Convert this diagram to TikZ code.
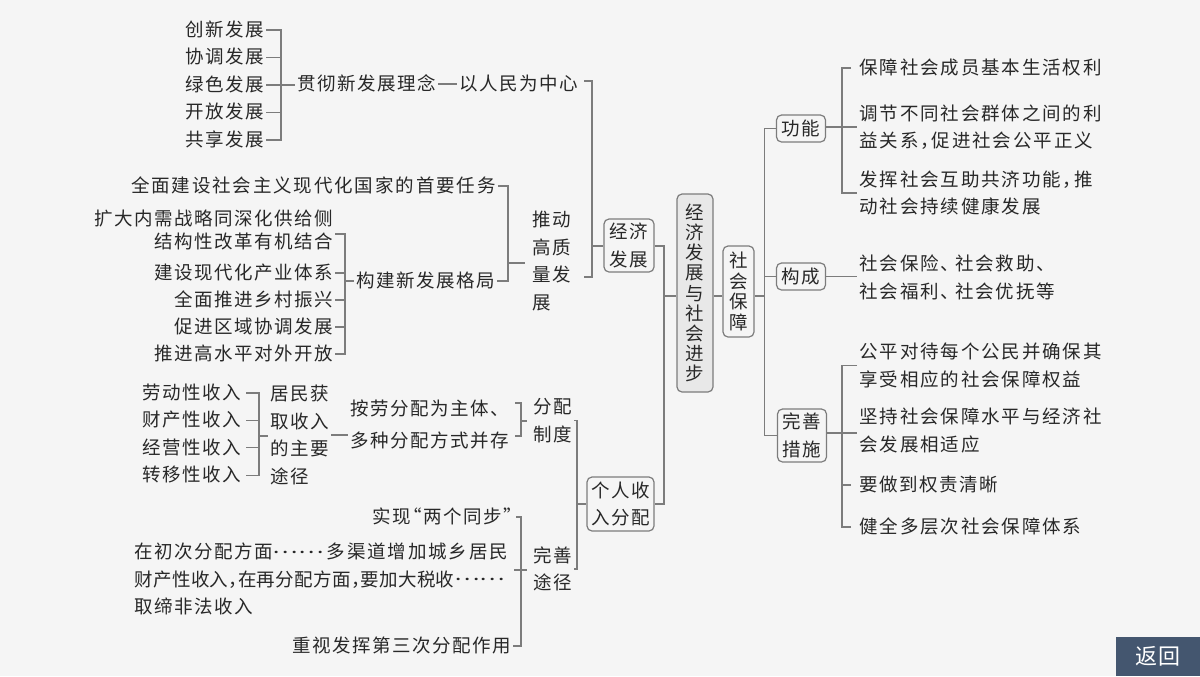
\documentclass[tikz,border=0pt]{standalone}
\usepackage{fontspec}
\setmainfont{Noto Sans CJK SC}[LetterSpace=8]
\newfontfamily\widefont{Noto Sans CJK SC}[LetterSpace=10]
\newfontfamily\tightfont{Noto Sans CJK SC}[LetterSpace=2]
\newfontfamily\dotfont{Noto Sans CJK SC}
\usepackage{tikz}
\usetikzlibrary{positioning}
\definecolor{pagec}{HTML}{F5F5F5}
\definecolor{inkc}{HTML}{282828}
\definecolor{linec}{HTML}{7C7C7C}
\definecolor{mainc}{HTML}{E8E8E8}
\definecolor{backc}{HTML}{44566F}
\newcommand{\ft}{\fontsize{9.25}{13.7}\selectfont}
\newcommand{\fw}{\widefont\ft}
\newcommand{\cm}{\kern-.38em}
\newcommand{\cmm}{\kern-.5em}
\newcommand{\dun}{\kern-.22em}
\newcommand{\dts}{\raisebox{.3em}{\scalebox{1.3}[1]{\dotfont ……}}}
\begin{document}
\begin{tikzpicture}[x=.5pt, y=-.5pt, font=\ft, text=inkc]
        \tikzstyle{block} = [rectangle, draw=linec, line width=.6pt, align=center, rounded corners=2.5pt, inner sep=0pt]
        \tikzstyle{textr} = [anchor=east, inner sep=1pt, text height=7.8pt, text depth=1.4pt]
        \tikzstyle{textl} = [anchor=west, inner sep=1pt, text height=7.8pt, text depth=1.4pt]
        \tikzstyle{para} = [anchor=west, align=left, inner sep=1pt]
        \tikzstyle{line} = [draw=linec, line width=.65pt]

        \fill [pagec] (0,0) rectangle (1200,676);
        \useasboundingbox (0,0) rectangle (1200,676);

        % middle column
        \node [block, fill=mainc, minimum width=18pt, minimum height=99pt, font=\fontsize{9.25}{10.1}\selectfont] (main) at (695,293) {经\\济\\发\\展\\与\\社\\会\\进\\步};
        \node [block, minimum width=15.5pt, minimum height=45.5pt, font=\fontsize{9.25}{10.3}\selectfont] (sb) at (738.5,291.5) {社\\会\\保\\障};
        \node [block, minimum width=25pt, minimum height=26.5pt] (jj) at (629,245.5) {经济\\发展};
        \node [block, minimum width=33.5pt, minimum height=27pt] (gr) at (620.5,504) {个人收\\入分配};
        \node [block, minimum width=24.5pt, minimum height=13.5pt] (gn) at (801,128.5) {功能};
        \node [block, minimum width=24.5pt, minimum height=13.5pt] (gou) at (801,276.5) {构成};
        \node [block, minimum width=24.5pt, minimum height=26.5pt] (wc) at (802,435.5) {完善\\措施};

        % top left
        \node [textr] (cx) at (266,30) {创新发展};
        \node [textr, below=13.75pt of cx.east, anchor=east] (xt) {协调发展};
        \node [textr, below=13.75pt of xt.east, anchor=east] (ls) {绿色发展};
        \node [textr, below=13.75pt of ls.east, anchor=east] (kf) {开放发展};
        \node [textr, below=13.75pt of kf.east, anchor=east] (gx) {共享发展};
        \node [textl] (gc) at (295,84) {贯彻新发展理念};
        \node [textl] (ymz) at (457,84) {以人民为中心};
        \node [textr, font=\fw] (qm) at (498,186) {全面建设社会主义现代化国家的首要任务};
        \node [para, anchor=east, align=right, font=\fontsize{9.25}{11.5}\selectfont] (kz) at (335,229.5) {扩大内需战略同深化供给侧\\结构性改革有机结合};
        \node [textr] (jg) at (335,273) {建设现代化产业体系};
        \node [textr, below=13.5pt of jg.east, anchor=east] (xc) {全面推进乡村振兴};
        \node [textr, below=13.5pt of xc.east, anchor=east] (qy) {促进区域协调发展};
        \node [textr, below=13.5pt of qy.east, anchor=east] (gk) {推进高水平对外开放};
        \node [textl] (gj) at (354,281) {构建新发展格局};
        \node [para] (tg) at (530,261) {推动\\高质\\量发\\展};

        % bottom left
        \node [textr] (ld) at (243,393) {劳动性收入};
        \node [textr, below=13.7pt of ld.east, anchor=east] (cc) {财产性收入};
        \node [textr, below=13.7pt of cc.east, anchor=east] (jy) {经营性收入};
        \node [textr, below=13.7pt of jy.east, anchor=east] (zy) {转移性收入};
        \node [para] (jm) at (268,435) {居民获\\取收入\\的主要\\途径};
        \node [para, font=\fontsize{9.25}{16}\selectfont] (an) at (348,424) {按劳分配为主体、\\多种分配方式并存};
        \node [para] (fp) at (531,420.5) {分配\\制度};
        \node [textr] (sx) at (516,517) {实现\kern-.42em“两个同步”\kern-.45em};
        \node [para] (zc) at (132,579) {在初次分配方面\dts\kern1.5pt{\fw 多渠道增加城乡居民}\\{\tightfont\ft 财产性收入，\cmm 在再分配方面，\cmm 要加大税收\dts}\\取缔非法收入};
        \node [textr] (sf) at (513,646) {重视发挥第三次分配作用};
        \node [para] (ws) at (531,569) {完善\\途径};

        % right column
        \node [textl, font=\fw] (bs) at (857,68) {保障社会成员基本生活权利};
        \node [para, font=\fw] (tj) at (857,127) {调节不同社会群体之间的利\\益关系，\cm 促进社会公平正义};
        \node [para, font=\fw] (fh) at (857,193) {发挥社会互助共济功能，\cm 推\\动社会持续健康发展};
        \node [para, font=\fw] (bz) at (857,277.5) {社会保险、\dun 社会救助、\\社会福利、\dun 社会优抚等};
        \node [para, font=\fw] (gp) at (857,365.5) {公平对待每个公民并确保其\\享受相应的社会保障权益};
        \node [para, font=\fw] (js) at (857,430.5) {坚持社会保障水平与经济社\\会发展相适应};
        \node [textl] (yz) at (857,485) {要做到权责清晰};
        \node [textl, font=\fw, below=21pt of yz.west, anchor=west] (jq) {健全多层次社会保障体系};

        \node [fill=backc, text=white, minimum width=42pt, minimum height=19.5pt, inner sep=0pt, font=\fontsize{11}{13}\selectfont] (fanhui) at (1158,656.5) {返回};

        % junctions and free ends
        \coordinate (hubA) at (281,85);
        \coordinate (hubB) at (592,246);
        \coordinate (hubC) at (508,263);
        \coordinate (hubD) at (345,281);
        \coordinate (hubE) at (259,436);
        \coordinate (hubF) at (521,421);
        \coordinate (hubG) at (577,504);
        \coordinate (hubH) at (521,570);
        \coordinate (hubM) at (664,296);
        \coordinate (hubS) at (764.5,296);
        \coordinate (hubN) at (842,127);
        \coordinate (hubW) at (842,433);
        \coordinate (ymzout) at (584,81);
        \coordinate (tgout) at (584,277);
        \coordinate (tgin) at (525,263);
        \coordinate (kzout) at (335,234);
        \coordinate (anup) at (515,403);
        \coordinate (anlow) at (515,436);
        \coordinate (fpin) at (527,421);
        \coordinate (wsin) at (527,570);

        \path [line] (cx.east) -| (hubA) |- (gx.east);
        \path [line] (xt.east) -- (xt.east -| hubA);
        \path [line] (kf.east) -- (kf.east -| hubA);
        \path [line] (ls.east |- hubA) -- (hubA -| gc.west);
        \path [line] (gc.east) -- (ymz.west);
        \path [line] (ymzout) -| (hubB) |- (tgout);
        \path [line] (hubB) -- (jj.west |- hubB);

        \path [line] (qm.east) -| (hubC) |- (gj.east);
        \path [line] (hubC) -- (tgin);
        \path [line] (kzout) -| (hubD) |- (gk.east);
        \path [line] (jg.east) -- (jg.east -| hubD);
        \path [line] (xc.east) -- (xc.east -| hubD);
        \path [line] (qy.east) -- (qy.east -| hubD);
        \path [line] (hubD) -- (gj.west);

        \path [line, shorten <=1.5pt] (ld.east) -| (hubE);
        \path [line, shorten <=1.5pt] (zy.east) -| (hubE);
        \path [line, shorten <=1.5pt] (cc.east) -- (cc.east -| hubE);
        \path [line, shorten <=1.5pt] (jy.east) -- (jy.east -| hubE);
        \path [line] (hubE) -- (jm.west |- hubE);
        \path [line] (jm.east) -- (an.west |- jm.east);
        \path [line] (anup) -| (hubF) |- (anlow);
        \path [line] (hubF) -- (fpin);
        \path [line] (sx.east) -| (hubH) |- (sf.east);
        \path [line, shorten <=2pt] (zc.east |- hubH) -- (wsin);
        \path [line] (fp.east) -| (hubG) |- (ws.east);
        \path [line] (hubG) -- (gr.west |- hubG);

        \path [line] (jj.east |- hubB) -| (hubM) |- (gr.east);
        \path [line] (hubM) -- (main.west |- hubM);
        \path [line] (main.east |- hubM) -- (sb.west |- hubM);
        \path [line] (sb.east |- hubS) -- (hubS);
        \path [line] (gn.west) -| (hubS) |- (wc.west);
        \path [line] (gou.west) -- (gou.west -| hubS);

        \path [line, shorten <=3pt] (bs.west) -| (hubN);
        \path [line] (hubN) |- (fh.west);
        \path [line] (gn.east |- hubN) -- (hubN -| tj.west);
        \path [line] (gou.east) -- (gou.east -| bz.west);
        \path [line] (gp.west) -| (hubW);
        \path [line] (wc.east |- hubW) -- (hubW -| js.west);
        \path [line, shorten <=3pt] (yz.west) -- (yz.west -| hubW);
        \path [line, shorten <=3pt] (jq.west) -| (hubW);
    \end{tikzpicture}
\end{document}
